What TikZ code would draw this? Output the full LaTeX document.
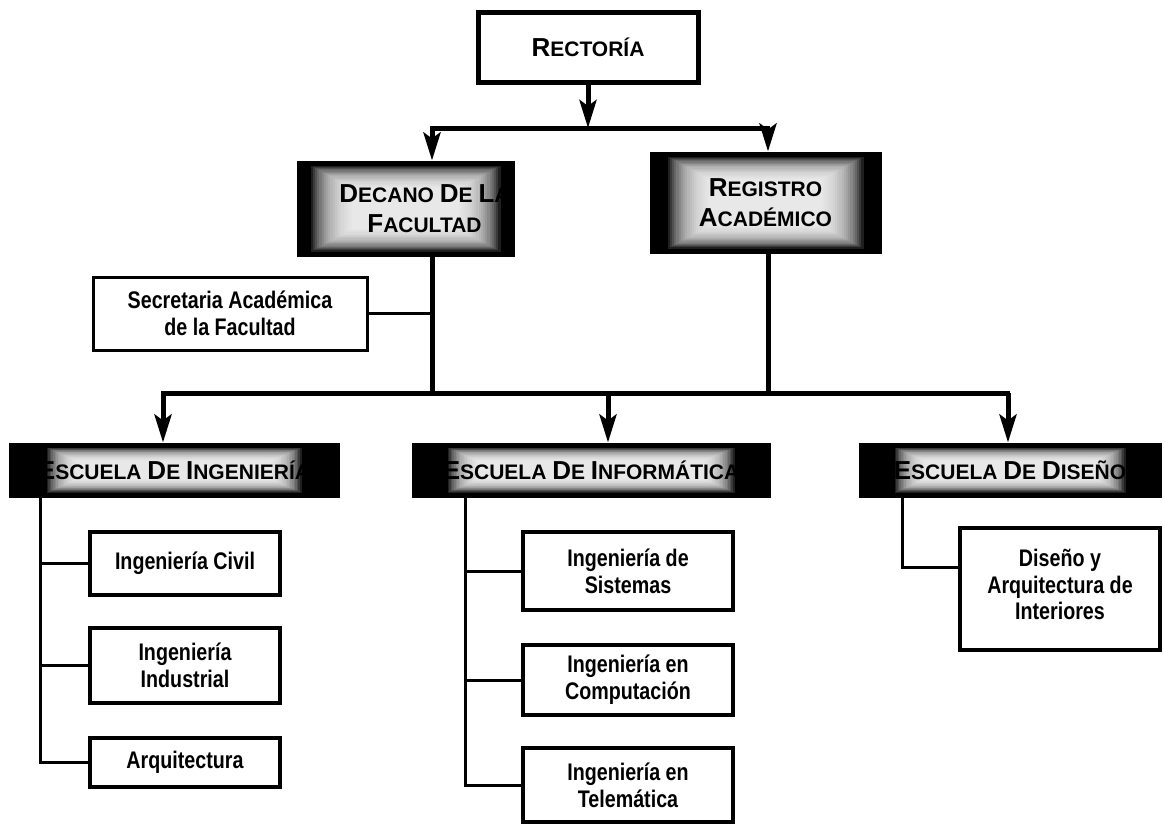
\documentclass[tikz,border=0pt]{standalone}
\usepackage{fontspec}
\setmainfont{Liberation Sans}
\newfontfamily\narrowsans[FakeStretch=0.82]{Liberation Sans}
\usetikzlibrary{arrows.meta,calc,backgrounds}

% capital-and-small-caps word: first letter large, rest small
\newcommand\hcw[2]{{\fontsize{26}{30}\selectfont #1}{\fontsize{21}{30}\selectfont #2}}
\newcommand\hsp{{\fontsize{21}{30}\selectfont\ }}

% dark frame fading to a light centre, drawn behind a node
\newcommand\glowfill[5]{%
  \begin{pgfonlayer}{background}
    \fill[black] (#1.north west) rectangle (#1.south east);
    \foreach \k in {0,...,19}{
      \fill[white,opacity=0.12]
        ($(#1.north west)+({#2+\k*#4},{#3+\k*#5})$) rectangle
        ($(#1.south east)-({#2+\k*#4},{#3+\k*#5})$);
    }
  \end{pgfonlayer}}

\tikzset{
  topbox/.style={draw=black,line width=5pt,inner sep=0pt,align=center,
    font=\bfseries\fontsize{21}{30}\selectfont},
  glowbox/.style={draw=black,line width=3pt,inner sep=0pt,align=center,
    font=\bfseries\fontsize{21}{30}\selectfont},
  unitbox/.style={draw=black,line width=3.5pt,fill=white,inner sep=0pt,align=center,
    font=\narrowsans\bfseries\fontsize{24}{27}\selectfont},
  link/.style={line width=5pt},
  linkarrow/.style={line width=5pt,-{Stealth[length=28pt,width=17pt,inset=6pt]}},
  sublink/.style={line width=3pt},
}

\begin{document}
\begin{tikzpicture}[x=1pt,y=-1pt]
\useasboundingbox (0,0) rectangle (1165,825);

% top level
\node[topbox,minimum width=220pt,minimum height=70pt] (rectoria) at (588,47) {\hcw{R}{ECTORÍA}};

\node[glowbox,minimum width=215pt,minimum height=93pt] (decano) at (405.5,208.5)
  {\hspace*{38pt}\hcw{D}{ECANO}\hsp\hcw{D}{E}\hsp\hcw{L}{A}\\\hspace*{38pt}\hcw{F}{ACULTAD}};
\glowfill{decano}{14}{5}{2.2}{1.2}

\node[glowbox,minimum width=229pt,minimum height=99pt] (registro) at (765.5,202.5)
  {\hcw{R}{EGISTRO}\\\hcw{A}{CADÉMICO}};
\glowfill{registro}{18}{5}{2.2}{1.2}

\node[unitbox,line width=3pt,minimum width=274pt,minimum height=73pt] (secretaria) at (230,313.5)
  {Secretaria Académica\\de la Facultad};

% schools
\node[glowbox,minimum width=328pt,minimum height=52pt] (ing) at (174,470)
  {\hcw{E}{SCUELA}\hsp\hcw{D}{E}\hsp\hcw{I}{NGENIERÍA}};
\glowfill{ing}{38}{5}{1.6}{0.7}

\node[glowbox,minimum width=356pt,minimum height=52pt] (inf) at (591,470)
  {\hcw{E}{SCUELA}\hsp\hcw{D}{E}\hsp\hcw{I}{NFORMÁTICA}};
\glowfill{inf}{36}{5}{1.6}{0.7}

\node[glowbox,minimum width=300pt,minimum height=52pt] (dis) at (1010,470)
  {\hcw{E}{SCUELA}\hsp\hcw{D}{E}\hsp\hcw{D}{ISEÑO}};
\glowfill{dis}{36}{5}{1.6}{0.7}

% programmes
\node[unitbox,minimum width=190pt,minimum height=63pt] (civil) at (185,563.5) {Ingeniería Civil};
\node[unitbox,minimum width=190pt,minimum height=75pt] (indus) at (185,665.5) {Ingeniería\\Industrial};
\node[unitbox,minimum width=190pt,minimum height=49pt] (arq) at (185,762.5) {Arquitectura};

\node[unitbox,minimum width=210pt,minimum height=78pt] (sis) at (628,571) {Ingeniería de\\Sistemas};
\node[unitbox,minimum width=210pt,minimum height=70pt] (comp) at (628,680) {Ingeniería en\\Computación};
\node[unitbox,minimum width=210pt,minimum height=74pt] (tele) at (628,785) {Ingeniería en\\Telemática};

\node[unitbox,minimum width=200pt,minimum height=122pt] (dai) at (1060,589)
  {\raisebox{9pt}{\shortstack{Diseño y\\[1pt]Arquitectura de\\[1pt]Interiores}}};

% junction points
\coordinate (hub) at (588,128);
\coordinate (bl) at (432,128);
\coordinate (br) at (768,128);
\coordinate (b2l) at (163,393);
\coordinate (b2m) at (608,393);
\coordinate (b2r) at (1008,393);
\coordinate (ti) at (40,496);
\coordinate (tm) at (465,496);
\coordinate (td) at (902,496);

% rectorate to the two offices
\draw[linkarrow] (rectoria.south) -- (hub);
\draw[link] ([xshift=-2pt]bl) -- ([xshift=2pt]br);
\draw[linkarrow] (bl) -- (bl |- decano.north);
\draw[linkarrow] (br) -- (br |- registro.north);

% offices to the schools
\draw[link] (bl |- decano.south) -- (bl |- b2l);
\draw[link] (br |- registro.south) -- (br |- b2r);
\draw[sublink,line width=3.5pt] (secretaria.east) -- (secretaria.east -| bl);
\draw[link] ([xshift=-2pt]b2l) -- ([xshift=2pt]b2r);
\draw[linkarrow] (b2l) -- (b2l |- ing.north);
\draw[linkarrow] (b2m) -- (b2m |- inf.north);
\draw[linkarrow] (b2r) -- (b2r |- dis.north);

% schools to programmes
\draw[sublink] (ti) |- (arq.west);
\draw[sublink] (ti |- civil.west) -- (civil.west);
\draw[sublink] (ti |- indus.west) -- (indus.west);

\draw[sublink] (tm) |- (tele.west);
\draw[sublink] (tm |- sis.west) -- (sis.west);
\draw[sublink] (tm |- comp.west) -- (comp.west);

\draw[sublink] (td) |- ([yshift=22pt]dai.west);
\end{tikzpicture}
\end{document}
